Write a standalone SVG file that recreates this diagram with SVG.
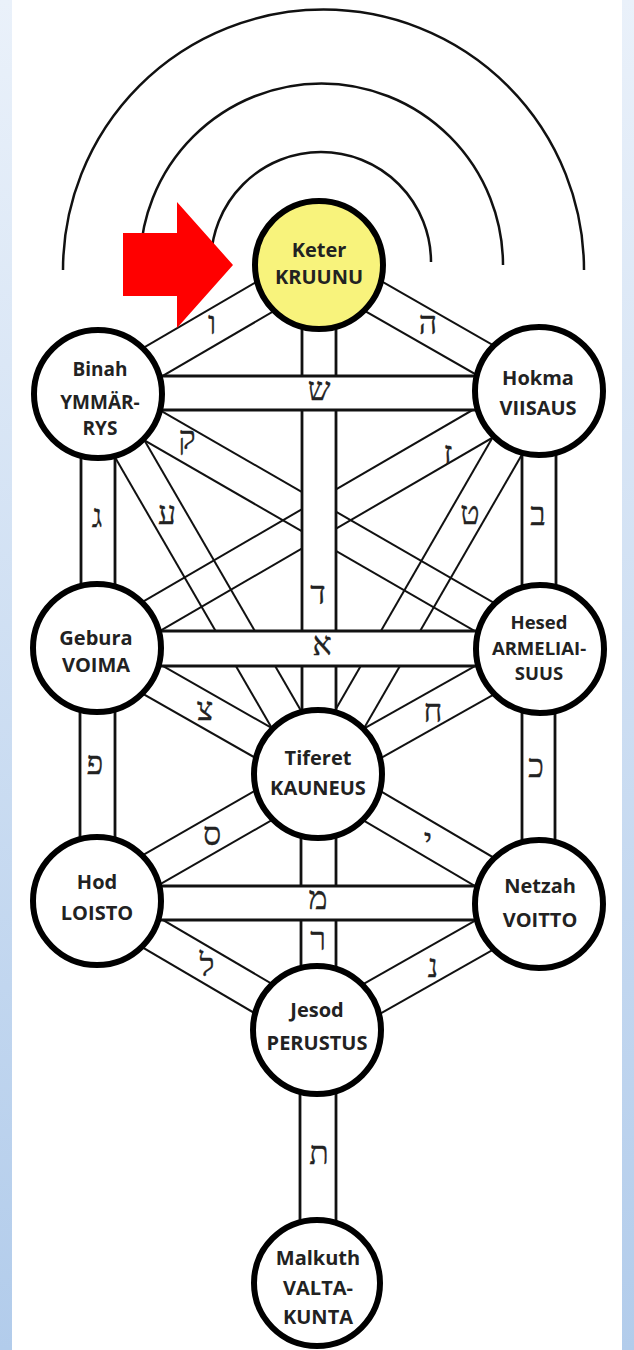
<svg xmlns="http://www.w3.org/2000/svg" width="634" height="1350" viewBox="0 0 634 1350">
<style>
.arc{fill:none;stroke:#111;stroke-width:2.5}
.dl{stroke:#111;stroke-width:2;fill:none}
.band{fill:#fff;stroke:none}
.bl{stroke:#111;stroke-width:2.8;fill:none}
.node{fill:#fff;stroke:#000;stroke-width:6}
.t{font-family:"Open Sans","Liberation Sans",sans-serif;font-weight:700;font-size:20px;fill:#222;text-anchor:middle}
.s{font-size:18.5px}
.m{font-size:19px}
.h{font-family:"Liberation Serif","DejaVu Serif","Noto Sans",serif;font-size:32px;fill:#222;stroke:#222;stroke-width:0.3;text-anchor:middle}
</style>
<defs>
<linearGradient id="side" x1="0" y1="0" x2="0" y2="1">
<stop offset="0" stop-color="#eaf1fa"/>
<stop offset="1" stop-color="#b2cceb"/>
</linearGradient>
</defs>
<rect x="0" y="0" width="634" height="1350" fill="#fff"/>
<rect x="0" y="0" width="12" height="1350" fill="url(#side)"/>
<rect x="622" y="0" width="12" height="1350" fill="url(#side)"/>

<g id="arcs">
<path class="arc" d="M211,262 A110,110 0 0 1 431,262"/>
<path class="arc" d="M140,265 A181.5,181.5 0 0 1 503,265"/>
<path class="arc" d="M63,270 A260.5,260.5 0 0 1 584,270"/>
</g>

<g id="connectors">
<g id="p-keter-binah"><line class="dl" x1="310.4" y1="250.3" x2="89.4" y2="379.3"/><line class="dl" x1="327.6" y1="279.7" x2="106.6" y2="408.7"/></g>
<g id="p-keter-hokma"><line class="dl" x1="310.6" y1="279.8" x2="530.6" y2="405.8"/><line class="dl" x1="327.5" y1="250.3" x2="547.5" y2="376.3"/></g>
<g id="p-binah-hesed"><line class="dl" x1="89.5" y1="408.7" x2="531.5" y2="663.7"/><line class="dl" x1="106.5" y1="379.3" x2="548.5" y2="634.3"/></g>
<g id="p-binah-tiferet"><line class="dl" x1="83.3" y1="402.5" x2="303.3" y2="782.5"/><line class="dl" x1="112.7" y1="385.5" x2="332.7" y2="765.5"/></g>
<g id="p-hokma-gebura"><line class="dl" x1="530.5" y1="376.3" x2="88.5" y2="633.3"/><line class="dl" x1="547.5" y1="405.7" x2="105.5" y2="662.7"/></g>
<g id="p-hokma-tiferet"><line class="dl" x1="524.3" y1="382.5" x2="303.3" y2="765.5"/><line class="dl" x1="553.7" y1="399.5" x2="332.7" y2="782.5"/></g>
<g id="p-gebura-tiferet"><line class="dl" x1="88.6" y1="662.8" x2="309.6" y2="788.8"/><line class="dl" x1="105.4" y1="633.2" x2="326.4" y2="759.2"/></g>
<g id="p-hesed-tiferet"><line class="dl" x1="531.7" y1="634.2" x2="309.7" y2="759.2"/><line class="dl" x1="548.3" y1="663.8" x2="326.3" y2="788.8"/></g>
<g id="p-tiferet-hod"><line class="dl" x1="309.5" y1="759.3" x2="88.5" y2="886.3"/><line class="dl" x1="326.5" y1="788.7" x2="105.5" y2="915.7"/></g>
<g id="p-tiferet-netzah"><line class="dl" x1="309.4" y1="788.7" x2="530.4" y2="918.7"/><line class="dl" x1="326.6" y1="759.4" x2="547.6" y2="889.4"/></g>
<g id="p-hod-jesod"><line class="dl" x1="88.4" y1="915.7" x2="308.4" y2="1044.7"/><line class="dl" x1="105.6" y1="886.3" x2="325.6" y2="1015.3"/></g>
<g id="p-netzah-jesod"><line class="dl" x1="530.6" y1="889.2" x2="308.6" y2="1015.2"/><line class="dl" x1="547.4" y1="918.8" x2="325.4" y2="1044.8"/></g>
<g id="p-keter-tiferet"><rect class="band" x="302" y="265" width="34" height="509"/><line class="bl" x1="302" y1="265" x2="302" y2="774"/><line class="bl" x1="336" y1="265" x2="336" y2="774"/></g>
<g id="p-tiferet-jesod"><rect class="band" x="301" y="774" width="35" height="256"/><line class="bl" x1="301" y1="774" x2="301" y2="1030"/><line class="bl" x1="336" y1="774" x2="336" y2="1030"/></g>
<g id="p-jesod-malkuth"><rect class="band" x="300" y="1030" width="36" height="253"/><line class="bl" x1="300" y1="1030" x2="300" y2="1283"/><line class="bl" x1="336" y1="1030" x2="336" y2="1283"/></g>
<g id="p-binah-gebura"><rect class="band" x="81" y="394" width="34" height="254"/><line class="bl" x1="81" y1="394" x2="81" y2="648"/><line class="bl" x1="115" y1="394" x2="115" y2="648"/></g>
<g id="p-hokma-hesed"><rect class="band" x="522" y="391" width="34" height="258"/><line class="bl" x1="522" y1="391" x2="522" y2="649"/><line class="bl" x1="556" y1="391" x2="556" y2="649"/></g>
<g id="p-gebura-hod"><rect class="band" x="80" y="648" width="35" height="253"/><line class="bl" x1="80" y1="648" x2="80" y2="901"/><line class="bl" x1="115" y1="648" x2="115" y2="901"/></g>
<g id="p-hesed-netzah"><rect class="band" x="522" y="649" width="33" height="255"/><line class="bl" x1="522" y1="649" x2="522" y2="904"/><line class="bl" x1="555" y1="649" x2="555" y2="904"/></g>
<g id="p-binah-hokma"><rect class="band" x="98" y="376" width="441" height="34"/><line class="bl" x1="98" y1="376" x2="539" y2="376"/><line class="bl" x1="98" y1="410" x2="539" y2="410"/></g>
<g id="p-gebura-hesed"><rect class="band" x="97" y="631" width="443" height="35"/><line class="bl" x1="97" y1="631" x2="540" y2="631"/><line class="bl" x1="97" y1="666" x2="540" y2="666"/></g>
<g id="p-hod-netzah"><rect class="band" x="97" y="886" width="442" height="34"/><line class="bl" x1="97" y1="886" x2="539" y2="886"/><line class="bl" x1="97" y1="920" x2="539" y2="920"/></g>
<g id="letters">
<text class="h" x="212" y="334">ו</text>
<text class="h" x="428" y="334">ה</text>
<text class="h" x="319" y="400">ש</text>
<text class="h" x="318" y="604">ד</text>
<text class="h" x="187" y="449">ק</text>
<text class="h" x="167" y="524">ע</text>
<text class="h" x="448" y="464">ז</text>
<text class="h" x="470" y="524">ט</text>
<text class="h" x="97" y="527">ג</text>
<text class="h" x="538" y="525">ב</text>
<text class="h" x="322" y="655">א</text>
<text class="h" x="205" y="720">צ</text>
<text class="h" x="433" y="722">ח</text>
<text class="h" x="95" y="774">פ</text>
<text class="h" x="536" y="777">כ</text>
<text class="h" x="212" y="845">ס</text>
<text class="h" x="428" y="851">י</text>
<text class="h" x="318" y="909">מ</text>
<text class="h" x="318" y="950">ר</text>
<text class="h" x="207" y="976">ל</text>
<text class="h" x="433" y="977">נ</text>
<text class="h" x="319" y="1164">ת</text>
</g>
</g>

<g id="keter"><circle class="node" cx="319" cy="265" r="64" style="fill:#f8f37c"/><text class="t" x="319" y="257">Keter</text><text class="t" x="319" y="284">KRUUNU</text></g>
<g id="binah"><circle class="node" cx="98" cy="394" r="64"/><text class="t m" x="100" y="376">Binah</text><text class="t m" x="100" y="409">YMMÄR-</text><text class="t m" x="100" y="435">RYS</text></g>
<g id="hokma"><circle class="node" cx="539" cy="391" r="64"/><text class="t" x="538" y="385">Hokma</text><text class="t" x="538" y="415">VIISAUS</text></g>
<g id="gebura"><circle class="node" cx="97" cy="648" r="64"/><text class="t" x="96" y="645">Gebura</text><text class="t" x="96" y="672">VOIMA</text></g>
<g id="hesed"><circle class="node" cx="540" cy="649" r="64"/><text class="t s" x="539" y="629">Hesed</text><text class="t s" x="539" y="655">ARMELIAI-</text><text class="t s" x="539" y="680">SUUS</text></g>
<g id="tiferet"><circle class="node" cx="318" cy="774" r="64"/><text class="t" x="318" y="765">Tiferet</text><text class="t" x="318" y="795">KAUNEUS</text></g>
<g id="hod"><circle class="node" cx="97" cy="901" r="64"/><text class="t" x="97" y="889">Hod</text><text class="t" x="97" y="920">LOISTO</text></g>
<g id="netzah"><circle class="node" cx="539" cy="904" r="64"/><text class="t" x="540" y="893">Netzah</text><text class="t" x="540" y="927">VOITTO</text></g>
<g id="jesod"><circle class="node" cx="317" cy="1030" r="64"/><text class="t" x="317" y="1017">Jesod</text><text class="t" x="317" y="1050">PERUSTUS</text></g>
<g id="malkuth"><circle class="node" cx="317" cy="1283" r="63"/><text class="t" x="318" y="1265">Malkuth</text><text class="t" x="318" y="1295">VALTA-</text><text class="t" x="318" y="1324">KUNTA</text></g>

<g id="arrow"><polygon points="123,233 177,233 177,202 233,265 177,328 177,296 123,296" fill="#ff0000"/></g>
</svg>
